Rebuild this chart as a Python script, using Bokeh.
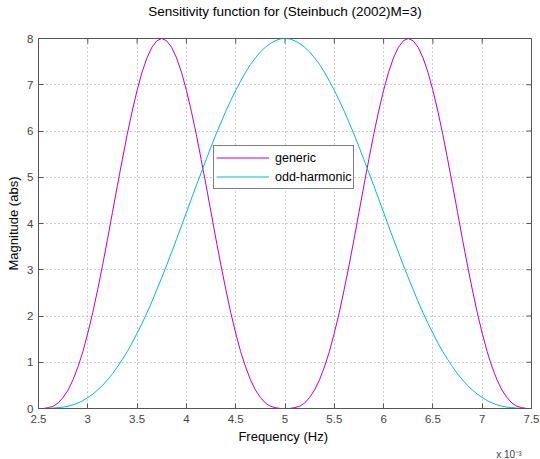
import math
from bokeh.plotting import figure
from bokeh.models import Range1d, FixedTicker, LinearAxis, Title
from bokeh.embed import file_html
from bokeh.resources import INLINE

# Frequency in units of 1e-3 Hz
freq_e3 = [2.5, 2.55, 2.6, 2.65, 2.7, 2.75, 2.8, 2.85, 2.9, 2.95,
           3.0, 3.05, 3.1, 3.15, 3.2, 3.25, 3.3, 3.35, 3.4, 3.45,
           3.5, 3.55, 3.6, 3.65, 3.7, 3.75, 3.8, 3.85, 3.9, 3.95,
           4.0, 4.05, 4.1, 4.15, 4.2, 4.25, 4.3, 4.35, 4.4, 4.45,
           4.5, 4.55, 4.6, 4.65, 4.7, 4.75, 4.8, 4.85, 4.9, 4.95,
           5.0, 5.05, 5.1, 5.15, 5.2, 5.25, 5.3, 5.35, 5.4, 5.45,
           5.5, 5.55, 5.6, 5.65, 5.7, 5.75, 5.8, 5.85, 5.9, 5.95,
           6.0, 6.05, 6.1, 6.15, 6.2, 6.25, 6.3, 6.35, 6.4, 6.45,
           6.5, 6.55, 6.6, 6.65, 6.7, 6.75, 6.8, 6.85, 6.9, 6.95,
           7.0, 7.05, 7.1, 7.15, 7.2, 7.25, 7.3, 7.35, 7.4, 7.45, 7.5]

generic = [0.00, 0.00, 0.02, 0.05, 0.12, 0.24, 0.40, 0.62, 0.90, 1.23,
           1.63, 2.07, 2.57, 3.10, 3.66, 4.24, 4.82, 5.38, 5.93, 6.43,
           6.88, 7.27, 7.58, 7.81, 7.95, 8.00, 7.95, 7.81, 7.58, 7.27,
           6.88, 6.43, 5.93, 5.38, 4.82, 4.24, 3.66, 3.10, 2.57, 2.07,
           1.63, 1.23, 0.90, 0.62, 0.40, 0.24, 0.12, 0.05, 0.02, 0.00,
           0.00, 0.00, 0.02, 0.05, 0.12, 0.24, 0.40, 0.62, 0.90, 1.23,
           1.63, 2.07, 2.57, 3.10, 3.66, 4.24, 4.82, 5.38, 5.93, 6.43,
           6.88, 7.27, 7.58, 7.81, 7.95, 8.00, 7.95, 7.81, 7.58, 7.27,
           6.88, 6.43, 5.93, 5.38, 4.82, 4.24, 3.66, 3.10, 2.57, 2.07,
           1.63, 1.23, 0.90, 0.62, 0.40, 0.24, 0.12, 0.05, 0.02, 0.00, 0.00]

odd_harmonic = [0.00, 0.00, 0.00, 0.01, 0.02, 0.03, 0.05, 0.08, 0.12, 0.17,
                0.24, 0.31, 0.40, 0.50, 0.62, 0.75, 0.90, 1.06, 1.23, 1.42,
                1.63, 1.84, 2.07, 2.31, 2.57, 2.83, 3.10, 3.38, 3.66, 3.95,
                4.24, 4.53, 4.82, 5.10, 5.38, 5.66, 5.93, 6.18, 6.43, 6.66,
                6.88, 7.08, 7.27, 7.44, 7.58, 7.71, 7.81, 7.89, 7.95, 7.99,
                8.00, 7.99, 7.95, 7.89, 7.81, 7.71, 7.58, 7.44, 7.27, 7.08,
                6.88, 6.66, 6.43, 6.18, 5.93, 5.66, 5.38, 5.10, 4.82, 4.53,
                4.24, 3.95, 3.66, 3.38, 3.10, 2.83, 2.57, 2.31, 2.07, 1.84,
                1.63, 1.42, 1.23, 1.06, 0.90, 0.75, 0.62, 0.50, 0.40, 0.31,
                0.24, 0.17, 0.12, 0.08, 0.05, 0.03, 0.02, 0.01, 0.00, 0.00, 0.00]

x_ticks = [2.5, 3, 3.5, 4, 4.5, 5, 5.5, 6, 6.5, 7, 7.5]
x_tick_labels = ["2.5", "3", "3.5", "4", "4.5", "5", "5.5", "6", "6.5", "7", "7.5"]
y_ticks = [0, 1, 2, 3, 4, 5, 6, 7, 8]
y_tick_labels = ["0", "1", "2", "3", "4", "5", "6", "7", "8"]

TITLE = "Sensitivity function for (Steinbuch (2002)M=3)"
X_LABEL = "Frequency  (Hz)"
Y_LABEL = "Magnitude (abs)"
X_SCALE_NOTE = "x 10\u207b\u00b3"

FONT = "Liberation Sans"
AX = "#555555"
FS = "13px"
X0, X1, Y0, Y1 = 2.5, 7.5, 0, 8

p = figure(width=540, height=459, output_backend="svg", toolbar_location=None,
           x_range=Range1d(X0, X1), y_range=Range1d(Y0, Y1),
           min_border_left=38, min_border_right=9, min_border_top=36, min_border_bottom=48)
p.background_fill_color = "white"
p.border_fill_color = "white"
p.outline_line_color = AX
p.outline_line_width = 1


def style_axis(ax, ticks, labels):
    ax.ticker = FixedTicker(ticks=ticks)
    ax.minor_tick_line_color = None
    ax.major_tick_in = 5
    ax.major_tick_out = 0
    ax.major_tick_line_color = AX
    ax.axis_line_color = AX
    ax.major_label_text_font = FONT
    ax.major_label_text_color = "#444444"
    ax.major_label_text_font_size = "11.5px"
    ax.major_label_overrides = dict(zip(ticks, labels))
    ax.major_label_standoff = 6
    ax.axis_label_text_font = FONT
    ax.axis_label_text_font_size = FS
    ax.axis_label_text_font_style = "normal"
    ax.axis_label_text_color = "black"


style_axis(p.xaxis[0], x_ticks, x_tick_labels)
p.xaxis[0].axis_label = X_LABEL
p.xaxis[0].axis_label_standoff = 3

style_axis(p.yaxis[0], y_ticks, y_tick_labels)
p.yaxis[0].major_label_standoff = 5
p.yaxis[0].axis_label = Y_LABEL
p.yaxis[0].axis_label_standoff = 3

# title drawn as the label of a tick-less top axis
top_ax = LinearAxis(ticker=FixedTicker(ticks=[]), axis_line_color=None,
                    major_tick_line_color=None, minor_tick_line_color=None,
                    major_tick_out=0, major_tick_in=0, major_label_standoff=0,
                    axis_label=TITLE, axis_label_standoff=20,
                    axis_label_text_font=FONT, axis_label_text_font_size="13.5px",
                    axis_label_text_font_style="normal", axis_label_text_color="black")
p.add_layout(top_ax, "above")

# "x 10^-3" multiplier note under the right end of the x axis
p.add_layout(Title(text=X_SCALE_NOTE, align="right", offset=10, standoff=0,
                   text_font=FONT, text_font_size="10px", text_font_style="normal",
                   text_color="#444444"), "below")

for g in (p.xgrid[0], p.ygrid[0]):
    g.grid_line_color = "#9a9a9a"
    g.grid_line_dash = "1 3"
    g.grid_line_width = 1
p.xgrid[0].ticker = FixedTicker(ticks=x_ticks)
p.ygrid[0].ticker = FixedTicker(ticks=y_ticks)

# inward ticks on the top and right edges (half of each dash is clipped by the frame)
p.scatter(x=x_ticks, y=[Y1] * len(x_ticks), marker="dash", angle=math.pi / 2, size=10,
          line_color=AX, line_width=1)
p.scatter(x=[X1] * len(y_ticks), y=y_ticks, marker="dash", size=10,
          line_color=AX, line_width=1)

p.line(freq_e3, generic, line_color="#bf00bf", line_width=1, legend_label="generic")
p.line(freq_e3, odd_harmonic, line_color="#00bfbf", line_width=1, legend_label="odd-harmonic")

lg = p.legend[0]
lg.location = (175, 219)
lg.margin = 0
lg.padding = 2
lg.spacing = 0
lg.glyph_width = 53
lg.glyph_height = 19
lg.label_height = 19
lg.label_standoff = 6
lg.label_text_font = FONT
lg.label_text_font_size = "12.5px"
lg.label_text_color = "black"
lg.border_line_color = "black"
lg.border_line_width = 1
lg.background_fill_color = "white"
lg.background_fill_alpha = 1

open("out.html", "w").write(file_html(p, INLINE))
